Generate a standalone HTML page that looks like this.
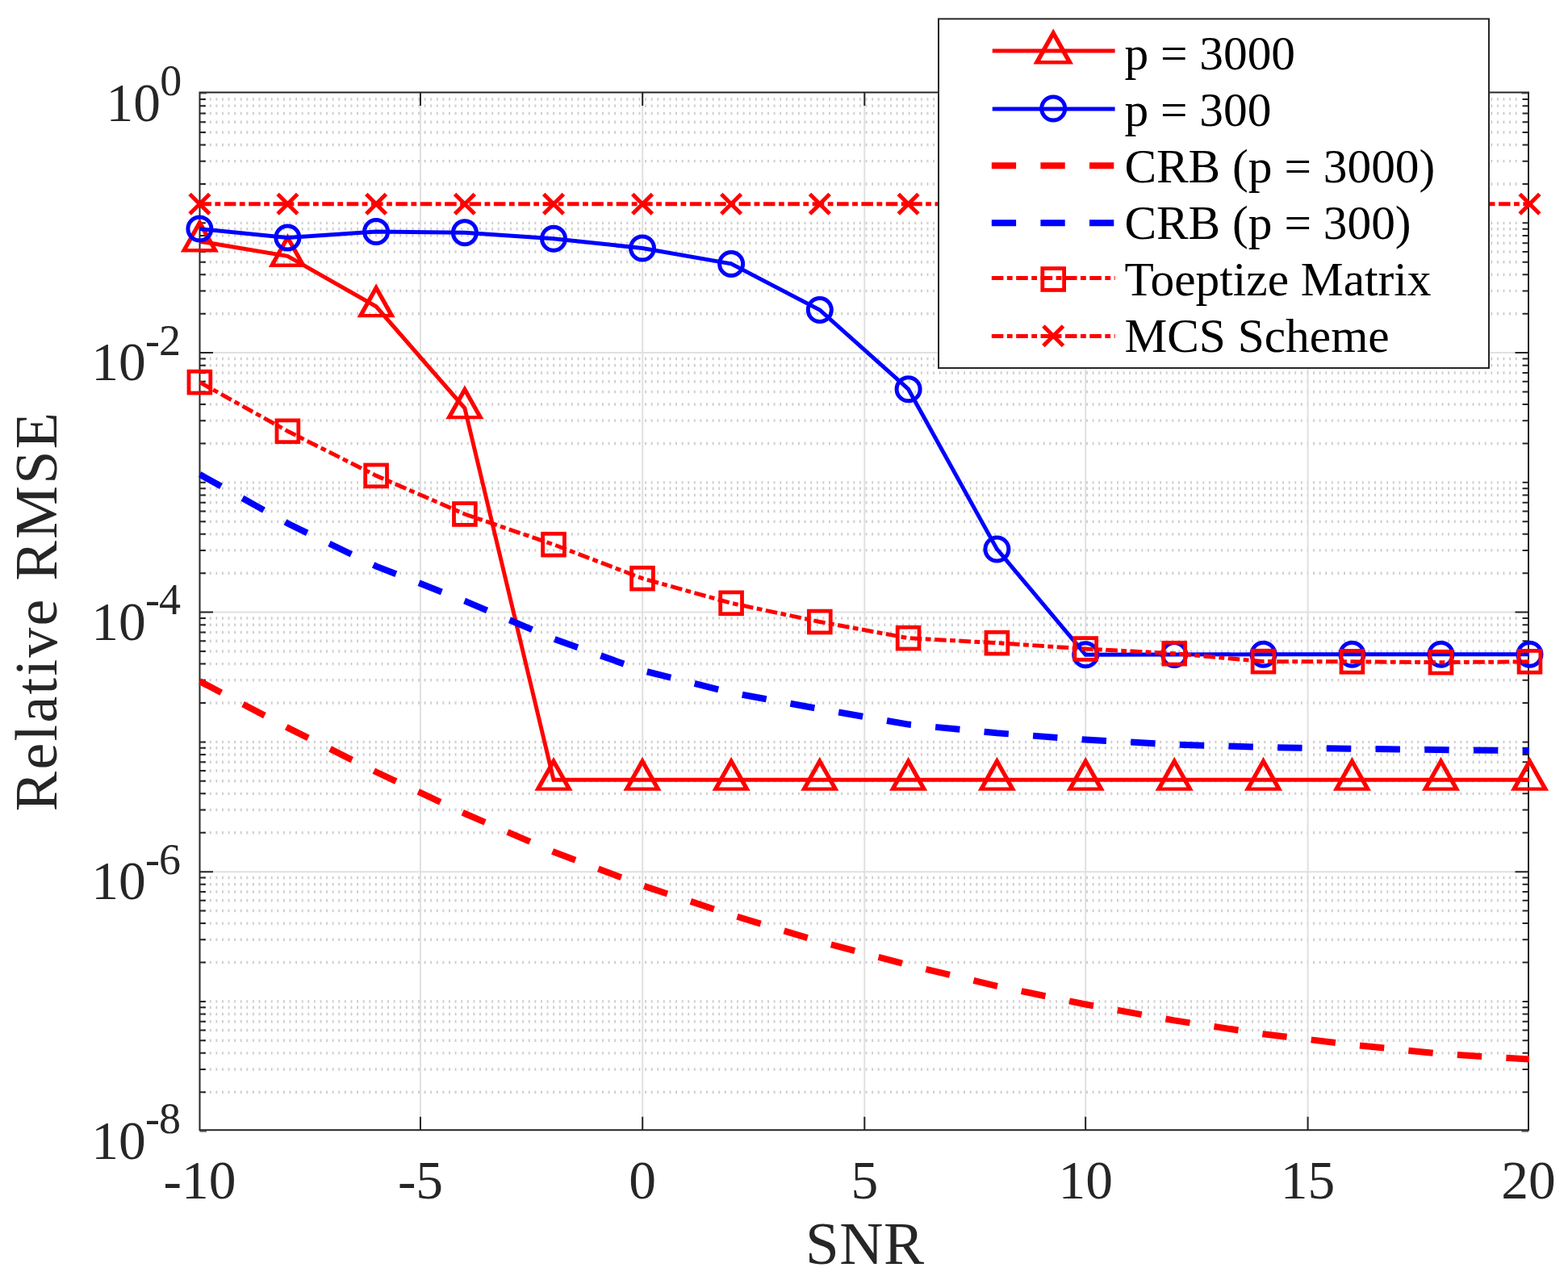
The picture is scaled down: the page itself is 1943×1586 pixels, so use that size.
<!DOCTYPE html>
<html lang="en"><head><meta charset="utf-8"><title>Relative RMSE vs SNR</title>
<style>html,body{margin:0;padding:0;background:#fff}body{width:1943px;height:1586px;overflow:hidden}svg{display:block}text{font-family:"Liberation Serif","DejaVu Serif",serif}</style></head><body>
<svg width="1943" height="1586" viewBox="0 0 1943 1586">
<rect width="1943" height="1586" fill="#fff"/>
<defs><clipPath id="ax"><rect x="246.5" y="113.5" width="1648.5" height="1287.7"/></clipPath></defs>
<g>
<g stroke="#cdcdcd" stroke-width="3.4" stroke-dasharray="1.9 5.696" fill="none">
<path d="M252.2 276.34H1885.0"/>
<path d="M252.2 227.95H1885.0"/>
<path d="M252.2 199.64H1885.0"/>
<path d="M252.2 179.55H1885.0"/>
<path d="M252.2 163.97H1885.0"/>
<path d="M252.2 151.24H1885.0"/>
<path d="M252.2 140.48H1885.0"/>
<path d="M252.2 131.16H1885.0"/>
<path d="M252.2 122.94H1885.0"/>
<path d="M252.2 388.71H1885.0"/>
<path d="M252.2 360.40H1885.0"/>
<path d="M252.2 340.31H1885.0"/>
<path d="M252.2 324.73H1885.0"/>
<path d="M252.2 312.00H1885.0"/>
<path d="M252.2 301.24H1885.0"/>
<path d="M252.2 291.92H1885.0"/>
<path d="M252.2 283.70H1885.0"/>
<path d="M252.2 597.86H1885.0"/>
<path d="M252.2 549.47H1885.0"/>
<path d="M252.2 521.16H1885.0"/>
<path d="M252.2 501.07H1885.0"/>
<path d="M252.2 485.49H1885.0"/>
<path d="M252.2 472.76H1885.0"/>
<path d="M252.2 462.00H1885.0"/>
<path d="M252.2 452.68H1885.0"/>
<path d="M252.2 444.46H1885.0"/>
<path d="M252.2 710.23H1885.0"/>
<path d="M252.2 681.92H1885.0"/>
<path d="M252.2 661.83H1885.0"/>
<path d="M252.2 646.25H1885.0"/>
<path d="M252.2 633.52H1885.0"/>
<path d="M252.2 622.76H1885.0"/>
<path d="M252.2 613.44H1885.0"/>
<path d="M252.2 605.22H1885.0"/>
<path d="M252.2 919.38H1885.0"/>
<path d="M252.2 870.99H1885.0"/>
<path d="M252.2 842.68H1885.0"/>
<path d="M252.2 822.59H1885.0"/>
<path d="M252.2 807.01H1885.0"/>
<path d="M252.2 794.28H1885.0"/>
<path d="M252.2 783.52H1885.0"/>
<path d="M252.2 774.20H1885.0"/>
<path d="M252.2 765.98H1885.0"/>
<path d="M252.2 1031.75H1885.0"/>
<path d="M252.2 1003.44H1885.0"/>
<path d="M252.2 983.35H1885.0"/>
<path d="M252.2 967.77H1885.0"/>
<path d="M252.2 955.04H1885.0"/>
<path d="M252.2 944.28H1885.0"/>
<path d="M252.2 934.96H1885.0"/>
<path d="M252.2 926.74H1885.0"/>
<path d="M252.2 1240.90H1885.0"/>
<path d="M252.2 1192.51H1885.0"/>
<path d="M252.2 1164.20H1885.0"/>
<path d="M252.2 1144.11H1885.0"/>
<path d="M252.2 1128.53H1885.0"/>
<path d="M252.2 1115.80H1885.0"/>
<path d="M252.2 1105.04H1885.0"/>
<path d="M252.2 1095.72H1885.0"/>
<path d="M252.2 1087.50H1885.0"/>
<path d="M252.2 1353.27H1885.0"/>
<path d="M252.2 1324.96H1885.0"/>
<path d="M252.2 1304.87H1885.0"/>
<path d="M252.2 1289.29H1885.0"/>
<path d="M252.2 1276.56H1885.0"/>
<path d="M252.2 1265.80H1885.0"/>
<path d="M252.2 1256.48H1885.0"/>
<path d="M252.2 1248.26H1885.0"/>
</g>
<g stroke="#e0e0e0" stroke-width="2" fill="none">
<path d="M520.95 114.5V1400.2"/>
<path d="M796.20 114.5V1400.2"/>
<path d="M1071.30 114.5V1400.2"/>
<path d="M1345.15 114.5V1400.2"/>
<path d="M1620.60 114.5V1400.2"/>
<path d="M247.5 437.10H1894.0"/>
<path d="M247.5 758.62H1894.0"/>
<path d="M247.5 1080.14H1894.0"/>
</g>
<g stroke="#262626" stroke-width="2" fill="none">
<path d="M247.5 115.58h8.5M1894.0 115.58h-8.5" stroke="#6a6a6a"/>
<path d="M247.5 1401.66h8.5M1894.0 1401.66h-8.5" stroke="#6a6a6a"/>
<rect x="247.5" y="114.5" width="1646.5" height="1285.7"/>
<path d="M520.95 1400.2v-16.5M520.95 114.5v16.5"/>
<path d="M796.20 1400.2v-16.5M796.20 114.5v16.5"/>
<path d="M1071.30 1400.2v-16.5M1071.30 114.5v16.5"/>
<path d="M1345.15 1400.2v-16.5M1345.15 114.5v16.5"/>
<path d="M1620.60 1400.2v-16.5M1620.60 114.5v16.5"/>
<path d="M247.5 227.95h7.4M1894.0 227.95h-7.4"/>
<path d="M247.5 199.64h7.4M1894.0 199.64h-7.4"/>
<path d="M247.5 179.55h7.4M1894.0 179.55h-7.4"/>
<path d="M247.5 163.97h7.4M1894.0 163.97h-7.4"/>
<path d="M247.5 151.24h7.4M1894.0 151.24h-7.4"/>
<path d="M247.5 140.48h7.4M1894.0 140.48h-7.4"/>
<path d="M247.5 131.16h7.4M1894.0 131.16h-7.4"/>
<path d="M247.5 122.94h7.4M1894.0 122.94h-7.4"/>
<path d="M247.5 276.34h7.4M1894.0 276.34h-7.4"/>
<path d="M247.5 388.71h7.4M1894.0 388.71h-7.4"/>
<path d="M247.5 360.40h7.4M1894.0 360.40h-7.4"/>
<path d="M247.5 340.31h7.4M1894.0 340.31h-7.4"/>
<path d="M247.5 324.73h7.4M1894.0 324.73h-7.4"/>
<path d="M247.5 312.00h7.4M1894.0 312.00h-7.4"/>
<path d="M247.5 301.24h7.4M1894.0 301.24h-7.4"/>
<path d="M247.5 291.92h7.4M1894.0 291.92h-7.4"/>
<path d="M247.5 283.70h7.4M1894.0 283.70h-7.4"/>
<path d="M247.5 437.10h16.5M1894.0 437.10h-16.5"/>
<path d="M247.5 549.47h7.4M1894.0 549.47h-7.4"/>
<path d="M247.5 521.16h7.4M1894.0 521.16h-7.4"/>
<path d="M247.5 501.07h7.4M1894.0 501.07h-7.4"/>
<path d="M247.5 485.49h7.4M1894.0 485.49h-7.4"/>
<path d="M247.5 472.76h7.4M1894.0 472.76h-7.4"/>
<path d="M247.5 462.00h7.4M1894.0 462.00h-7.4"/>
<path d="M247.5 452.68h7.4M1894.0 452.68h-7.4"/>
<path d="M247.5 444.46h7.4M1894.0 444.46h-7.4"/>
<path d="M247.5 597.86h7.4M1894.0 597.86h-7.4"/>
<path d="M247.5 710.23h7.4M1894.0 710.23h-7.4"/>
<path d="M247.5 681.92h7.4M1894.0 681.92h-7.4"/>
<path d="M247.5 661.83h7.4M1894.0 661.83h-7.4"/>
<path d="M247.5 646.25h7.4M1894.0 646.25h-7.4"/>
<path d="M247.5 633.52h7.4M1894.0 633.52h-7.4"/>
<path d="M247.5 622.76h7.4M1894.0 622.76h-7.4"/>
<path d="M247.5 613.44h7.4M1894.0 613.44h-7.4"/>
<path d="M247.5 605.22h7.4M1894.0 605.22h-7.4"/>
<path d="M247.5 758.62h16.5M1894.0 758.62h-16.5"/>
<path d="M247.5 870.99h7.4M1894.0 870.99h-7.4"/>
<path d="M247.5 842.68h7.4M1894.0 842.68h-7.4"/>
<path d="M247.5 822.59h7.4M1894.0 822.59h-7.4"/>
<path d="M247.5 807.01h7.4M1894.0 807.01h-7.4"/>
<path d="M247.5 794.28h7.4M1894.0 794.28h-7.4"/>
<path d="M247.5 783.52h7.4M1894.0 783.52h-7.4"/>
<path d="M247.5 774.20h7.4M1894.0 774.20h-7.4"/>
<path d="M247.5 765.98h7.4M1894.0 765.98h-7.4"/>
<path d="M247.5 919.38h7.4M1894.0 919.38h-7.4"/>
<path d="M247.5 1031.75h7.4M1894.0 1031.75h-7.4"/>
<path d="M247.5 1003.44h7.4M1894.0 1003.44h-7.4"/>
<path d="M247.5 983.35h7.4M1894.0 983.35h-7.4"/>
<path d="M247.5 967.77h7.4M1894.0 967.77h-7.4"/>
<path d="M247.5 955.04h7.4M1894.0 955.04h-7.4"/>
<path d="M247.5 944.28h7.4M1894.0 944.28h-7.4"/>
<path d="M247.5 934.96h7.4M1894.0 934.96h-7.4"/>
<path d="M247.5 926.74h7.4M1894.0 926.74h-7.4"/>
<path d="M247.5 1080.14h16.5M1894.0 1080.14h-16.5"/>
<path d="M247.5 1192.51h7.4M1894.0 1192.51h-7.4"/>
<path d="M247.5 1164.20h7.4M1894.0 1164.20h-7.4"/>
<path d="M247.5 1144.11h7.4M1894.0 1144.11h-7.4"/>
<path d="M247.5 1128.53h7.4M1894.0 1128.53h-7.4"/>
<path d="M247.5 1115.80h7.4M1894.0 1115.80h-7.4"/>
<path d="M247.5 1105.04h7.4M1894.0 1105.04h-7.4"/>
<path d="M247.5 1095.72h7.4M1894.0 1095.72h-7.4"/>
<path d="M247.5 1087.50h7.4M1894.0 1087.50h-7.4"/>
<path d="M247.5 1240.90h7.4M1894.0 1240.90h-7.4"/>
<path d="M247.5 1353.27h7.4M1894.0 1353.27h-7.4"/>
<path d="M247.5 1324.96h7.4M1894.0 1324.96h-7.4"/>
<path d="M247.5 1304.87h7.4M1894.0 1304.87h-7.4"/>
<path d="M247.5 1289.29h7.4M1894.0 1289.29h-7.4"/>
<path d="M247.5 1276.56h7.4M1894.0 1276.56h-7.4"/>
<path d="M247.5 1265.80h7.4M1894.0 1265.80h-7.4"/>
<path d="M247.5 1256.48h7.4M1894.0 1256.48h-7.4"/>
<path d="M247.5 1248.26h7.4M1894.0 1248.26h-7.4"/>
</g>
<g stroke="#ff0000" stroke-width="5.0" fill="none" stroke-linejoin="miter">
<path clip-path="url(#ax)" d="M247.4 299.0L356.4 317.4L466.1 379.8L575.9 505.8L686.0 966.3L796.0 966.3L906.1 966.3L1015.8 966.3L1125.6 966.3L1235.4 966.3L1345.2 966.3L1455.2 966.3L1565.5 966.3L1675.4 966.3L1785.5 966.3L1895.5 966.3"/>
<path stroke="none" fill="#ff0000" fill-rule="evenodd" d="M247.4 270.5L271.0 312.5L223.8 312.5ZM247.4 281.2L262.5 308.1L232.3 308.1Z"/>
<path stroke="none" fill="#ff0000" fill-rule="evenodd" d="M356.4 288.9L380.0 330.9L332.8 330.9ZM356.4 299.6L371.5 326.5L341.3 326.5Z"/>
<path stroke="none" fill="#ff0000" fill-rule="evenodd" d="M466.1 351.3L489.7 393.3L442.5 393.3ZM466.1 362.0L481.2 388.9L451.0 388.9Z"/>
<path stroke="none" fill="#ff0000" fill-rule="evenodd" d="M575.9 477.3L599.5 519.3L552.3 519.3ZM575.9 488.0L591.0 514.9L560.8 514.9Z"/>
<path stroke="none" fill="#ff0000" fill-rule="evenodd" d="M686.0 937.8L709.6 979.8L662.4 979.8ZM686.0 948.5L701.1 975.4L670.9 975.4Z"/>
<path stroke="none" fill="#ff0000" fill-rule="evenodd" d="M796.0 937.8L819.6 979.8L772.4 979.8ZM796.0 948.5L811.1 975.4L780.9 975.4Z"/>
<path stroke="none" fill="#ff0000" fill-rule="evenodd" d="M906.1 937.8L929.7 979.8L882.5 979.8ZM906.1 948.5L921.2 975.4L891.0 975.4Z"/>
<path stroke="none" fill="#ff0000" fill-rule="evenodd" d="M1015.8 937.8L1039.4 979.8L992.2 979.8ZM1015.8 948.5L1030.9 975.4L1000.7 975.4Z"/>
<path stroke="none" fill="#ff0000" fill-rule="evenodd" d="M1125.6 937.8L1149.2 979.8L1102.0 979.8ZM1125.6 948.5L1140.7 975.4L1110.5 975.4Z"/>
<path stroke="none" fill="#ff0000" fill-rule="evenodd" d="M1235.4 937.8L1259.0 979.8L1211.8 979.8ZM1235.4 948.5L1250.5 975.4L1220.3 975.4Z"/>
<path stroke="none" fill="#ff0000" fill-rule="evenodd" d="M1345.2 937.8L1368.8 979.8L1321.6 979.8ZM1345.2 948.5L1360.3 975.4L1330.1 975.4Z"/>
<path stroke="none" fill="#ff0000" fill-rule="evenodd" d="M1455.2 937.8L1478.8 979.8L1431.6 979.8ZM1455.2 948.5L1470.3 975.4L1440.1 975.4Z"/>
<path stroke="none" fill="#ff0000" fill-rule="evenodd" d="M1565.5 937.8L1589.1 979.8L1541.9 979.8ZM1565.5 948.5L1580.6 975.4L1550.4 975.4Z"/>
<path stroke="none" fill="#ff0000" fill-rule="evenodd" d="M1675.4 937.8L1699.0 979.8L1651.8 979.8ZM1675.4 948.5L1690.5 975.4L1660.3 975.4Z"/>
<path stroke="none" fill="#ff0000" fill-rule="evenodd" d="M1785.5 937.8L1809.1 979.8L1761.9 979.8ZM1785.5 948.5L1800.6 975.4L1770.4 975.4Z"/>
<path stroke="none" fill="#ff0000" fill-rule="evenodd" d="M1895.5 937.8L1919.1 979.8L1871.9 979.8ZM1895.5 948.5L1910.6 975.4L1880.4 975.4Z"/>
</g>
<g stroke="#0000ff" stroke-width="5.0" fill="none" stroke-linejoin="miter">
<path clip-path="url(#ax)" d="M247.4 283.6L356.4 294.6L466.1 286.9L575.9 288.3L686.0 295.8L796.0 307.5L906.1 326.9L1015.8 384.0L1125.6 482.2L1235.4 680.4L1345.2 811.3L1455.2 811.0L1565.5 810.8L1675.4 810.7L1785.5 810.7L1895.5 810.7"/>
<circle cx="247.4" cy="283.6" r="14.5" stroke-width="5.0"/>
<circle cx="356.4" cy="294.6" r="14.5" stroke-width="5.0"/>
<circle cx="466.1" cy="286.9" r="14.5" stroke-width="5.0"/>
<circle cx="575.9" cy="288.3" r="14.5" stroke-width="5.0"/>
<circle cx="686.0" cy="295.8" r="14.5" stroke-width="5.0"/>
<circle cx="796.0" cy="307.5" r="14.5" stroke-width="5.0"/>
<circle cx="906.1" cy="326.9" r="14.5" stroke-width="5.0"/>
<circle cx="1015.8" cy="384.0" r="14.5" stroke-width="5.0"/>
<circle cx="1125.6" cy="482.2" r="14.5" stroke-width="5.0"/>
<circle cx="1235.4" cy="680.4" r="14.5" stroke-width="5.0"/>
<circle cx="1345.2" cy="811.3" r="14.5" stroke-width="5.0"/>
<circle cx="1455.2" cy="811.0" r="14.5" stroke-width="5.0"/>
<circle cx="1565.5" cy="810.8" r="14.5" stroke-width="5.0"/>
<circle cx="1675.4" cy="810.7" r="14.5" stroke-width="5.0"/>
<circle cx="1785.5" cy="810.7" r="14.5" stroke-width="5.0"/>
<circle cx="1895.5" cy="810.7" r="14.5" stroke-width="5.0"/>
</g>
<g stroke="#ff0000" stroke-width="8.0" fill="none" stroke-linejoin="miter">
<path clip-path="url(#ax)" d="M247.4 844.1L356.4 901.6L466.1 956.5L575.9 1008.0L686.0 1055.5L796.0 1097.2L906.1 1133.5L1015.8 1166.7L1125.6 1195.6L1235.4 1221.8L1345.2 1244.5L1455.2 1264.4L1565.5 1281.2L1675.4 1294.5L1785.5 1305.8L1895.5 1312.5" stroke-dasharray="30.4 30.3"/>
</g>
<g stroke="#0000ff" stroke-width="8.0" fill="none" stroke-linejoin="miter">
<path clip-path="url(#ax)" d="M247.4 587.8L356.4 648.5L466.1 701.6L575.9 744.6L686.0 791.5L796.0 830.8L906.1 858.3L1015.8 878.4L1125.6 897.6L1235.4 908.3L1345.2 916.5L1455.2 922.5L1565.5 925.9L1675.4 927.7L1785.5 929.1L1895.5 930.0" stroke-dasharray="30.4 30.3"/>
</g>
<g stroke="#ff0000" stroke-width="5.0" fill="none" stroke-linejoin="miter">
<path clip-path="url(#ax)" d="M247.4 473.6L356.4 534.2L466.1 589.4L575.9 637.0L686.0 674.7L796.0 716.7L906.1 747.3L1015.8 770.5L1125.6 790.6L1235.4 796.7L1345.2 804.0L1455.2 809.7L1565.5 819.6L1675.4 819.8L1785.5 820.7L1895.5 819.8" stroke-dasharray="14.6 4.45 6.8 4.52"/>
<rect x="234.0" y="460.2" width="26.8" height="26.8" stroke-width="4.8"/>
<rect x="343.0" y="520.9" width="26.8" height="26.8" stroke-width="4.8"/>
<rect x="452.7" y="576.0" width="26.8" height="26.8" stroke-width="4.8"/>
<rect x="562.5" y="623.6" width="26.8" height="26.8" stroke-width="4.8"/>
<rect x="672.6" y="661.3" width="26.8" height="26.8" stroke-width="4.8"/>
<rect x="782.6" y="703.3" width="26.8" height="26.8" stroke-width="4.8"/>
<rect x="892.7" y="733.9" width="26.8" height="26.8" stroke-width="4.8"/>
<rect x="1002.4" y="757.1" width="26.8" height="26.8" stroke-width="4.8"/>
<rect x="1112.2" y="777.2" width="26.8" height="26.8" stroke-width="4.8"/>
<rect x="1222.0" y="783.3" width="26.8" height="26.8" stroke-width="4.8"/>
<rect x="1331.8" y="790.6" width="26.8" height="26.8" stroke-width="4.8"/>
<rect x="1441.8" y="796.3" width="26.8" height="26.8" stroke-width="4.8"/>
<rect x="1552.1" y="806.2" width="26.8" height="26.8" stroke-width="4.8"/>
<rect x="1662.0" y="806.4" width="26.8" height="26.8" stroke-width="4.8"/>
<rect x="1772.1" y="807.3" width="26.8" height="26.8" stroke-width="4.8"/>
<rect x="1882.1" y="806.4" width="26.8" height="26.8" stroke-width="4.8"/>
</g>
<g stroke="#ff0000" stroke-width="5.0" fill="none" stroke-linejoin="miter">
<path clip-path="url(#ax)" d="M247.4 252.8L356.4 252.8L466.1 252.8L575.9 252.8L686.0 252.8L796.0 252.8L906.1 252.8L1015.8 252.8L1125.6 252.8L1235.4 252.8L1345.2 252.8L1455.2 252.8L1565.5 252.8L1675.4 252.8L1785.5 252.8L1895.5 252.8" stroke-dasharray="14.6 4.45 6.8 4.52"/>
<path stroke-width="5.0" d="M235.1 240.5l24.6 24.6M235.1 265.1l24.6 -24.6"/>
<path stroke-width="5.0" d="M344.1 240.5l24.6 24.6M344.1 265.1l24.6 -24.6"/>
<path stroke-width="5.0" d="M453.8 240.5l24.6 24.6M453.8 265.1l24.6 -24.6"/>
<path stroke-width="5.0" d="M563.6 240.5l24.6 24.6M563.6 265.1l24.6 -24.6"/>
<path stroke-width="5.0" d="M673.7 240.5l24.6 24.6M673.7 265.1l24.6 -24.6"/>
<path stroke-width="5.0" d="M783.8 240.5l24.6 24.6M783.8 265.1l24.6 -24.6"/>
<path stroke-width="5.0" d="M893.8 240.5l24.6 24.6M893.8 265.1l24.6 -24.6"/>
<path stroke-width="5.0" d="M1003.5 240.5l24.6 24.6M1003.5 265.1l24.6 -24.6"/>
<path stroke-width="5.0" d="M1113.3 240.5l24.6 24.6M1113.3 265.1l24.6 -24.6"/>
<path stroke-width="5.0" d="M1223.1 240.5l24.6 24.6M1223.1 265.1l24.6 -24.6"/>
<path stroke-width="5.0" d="M1332.9 240.5l24.6 24.6M1332.9 265.1l24.6 -24.6"/>
<path stroke-width="5.0" d="M1442.9 240.5l24.6 24.6M1442.9 265.1l24.6 -24.6"/>
<path stroke-width="5.0" d="M1553.2 240.5l24.6 24.6M1553.2 265.1l24.6 -24.6"/>
<path stroke-width="5.0" d="M1663.1 240.5l24.6 24.6M1663.1 265.1l24.6 -24.6"/>
<path stroke-width="5.0" d="M1773.2 240.5l24.6 24.6M1773.2 265.1l24.6 -24.6"/>
<path stroke-width="5.0" d="M1883.2 240.5l24.6 24.6M1883.2 265.1l24.6 -24.6"/>
</g>
<g fill="#262626" font-size="67.5">
<text x="224.5" y="149.5" text-anchor="end">10<tspan font-size="54" dy="-31.3" dx="-0.8" letter-spacing="-0.8">0</tspan></text>
<text x="223.3" y="471.0" text-anchor="end">10<tspan font-size="54" dy="-31.3" dx="-0.8" letter-spacing="-0.8">-2</tspan></text>
<text x="223.3" y="792.5" text-anchor="end">10<tspan font-size="54" dy="-31.3" dx="-0.8" letter-spacing="-0.8">-4</tspan></text>
<text x="223.3" y="1114.0" text-anchor="end">10<tspan font-size="54" dy="-31.3" dx="-0.8" letter-spacing="-0.8">-6</tspan></text>
<text x="223.3" y="1435.6" text-anchor="end">10<tspan font-size="54" dy="-31.3" dx="-0.8" letter-spacing="-0.8">-8</tspan></text>
<text x="247.5" y="1485" text-anchor="middle">-10</text>
<text x="521.0" y="1485" text-anchor="middle">-5</text>
<text x="796.2" y="1485" text-anchor="middle">0</text>
<text x="1071.3" y="1485" text-anchor="middle">5</text>
<text x="1345.2" y="1485" text-anchor="middle">10</text>
<text x="1620.6" y="1485" text-anchor="middle">15</text>
<text x="1894.0" y="1485" text-anchor="middle">20</text>
</g>
<text x="1071.8" y="1565.5" font-size="75" text-anchor="middle" fill="#262626" letter-spacing="0.5">SNR</text>
<text transform="translate(70.2 757) rotate(-90)" font-size="74" text-anchor="middle" fill="#262626" letter-spacing="2.3">Relative RMSE</text>
<rect x="1163.0" y="23.4" width="682.0" height="432.6" fill="#fff" stroke="#262626" stroke-width="2"/>
<g stroke="#ff0000" stroke-width="5.0" fill="none">
<path d="M1229.7 63.0H1381.6"/>
<path stroke="none" fill="#ff0000" fill-rule="evenodd" d="M1305.2 35.4L1330.0 79.5L1280.4 79.5ZM1305.2 46.6L1321.1 74.9L1289.3 74.9Z"/>
</g>
<text x="1393.4" y="85.5" font-size="59.4" fill="#000">p = 3000</text>
<g stroke="#0000ff" stroke-width="5.0" fill="none">
<path d="M1229.7 135.1H1381.6"/>
<circle cx="1305.2" cy="134.6" r="14.5" stroke-width="5.0"/>
</g>
<text x="1393.4" y="155.8" font-size="59.4" fill="#000">p = 300</text>
<g stroke="#ff0000" stroke-width="8.0" fill="none">
<path d="M1228.8 205.2H1381.6" stroke-dasharray="30.3 30.3"/>
</g>
<text x="1393.4" y="226.1" font-size="59.4" fill="#000">CRB (p = 3000)</text>
<g stroke="#0000ff" stroke-width="8.0" fill="none">
<path d="M1228.8 276.3H1381.6" stroke-dasharray="30.3 30.3"/>
</g>
<text x="1393.4" y="296.2" font-size="59.4" fill="#000">CRB (p = 300)</text>
<g stroke="#ff0000" stroke-width="5.0" fill="none">
<path d="M1228.8 344.4H1381.6" stroke-dasharray="14.6 4.45 6.8 4.52"/>
<rect x="1291.8" y="332.6" width="26.8" height="26.8" stroke-width="4.8"/>
</g>
<text x="1393.4" y="366.0" font-size="59.4" fill="#000">Toeptize Matrix</text>
<g stroke="#ff0000" stroke-width="5.0" fill="none">
<path d="M1228.8 416.4H1381.6" stroke-dasharray="14.6 4.45 6.8 4.52"/>
<path stroke-width="5.0" d="M1292.9 403.9l24.6 24.6M1292.9 428.5l24.6 -24.6"/>
</g>
<text x="1393.4" y="436.3" font-size="59.4" fill="#000">MCS Scheme</text>
</g>
</svg></body></html>
